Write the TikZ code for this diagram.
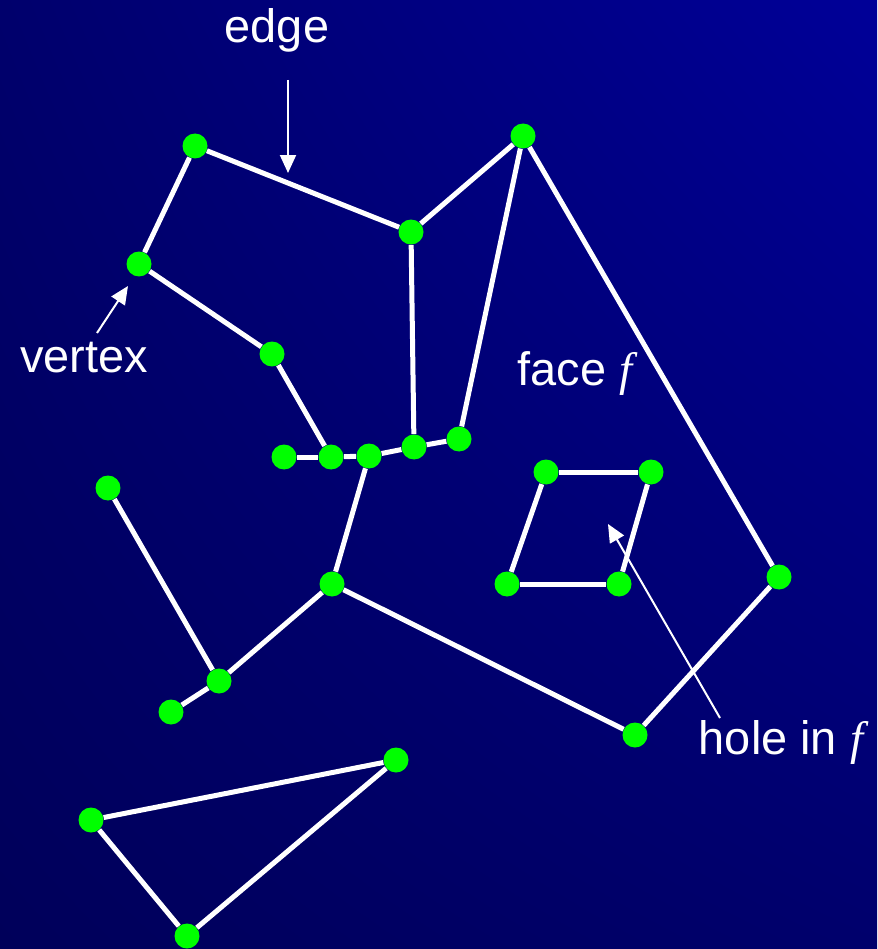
\documentclass[tikz,border=0pt]{standalone}
\usepackage{fontspec}
\setmainfont{Liberation Sans}
\newfontfamily\timesit[ItalicFont={Liberation Serif Italic}]{Liberation Serif}
\usepackage{xcolor}
\definecolor{PlaneDeep}{HTML}{00005A}
\definecolor{PlaneMid}{HTML}{00006C}
\definecolor{PlaneBright}{HTML}{000098}
\definecolor{VertGreen}{HTML}{00FF00}
\usetikzlibrary{arrows.meta,shadings}
\newcommand{\facevar}{{\timesit\itshape f}}

\begin{document}
\begin{tikzpicture}[
  x=0.02cm,y=-0.02cm,
  vert/.style={circle,fill=VertGreen,inner sep=0pt,minimum size=0.5cm},
  seg/.style={draw=white,line width=0.1cm},
  pointer/.style={-{Triangle[length=3.6mm,width=3.2mm]},line width=0.04cm,draw=white},
  lbl/.style={text=white,font=\fontsize{26.7}{32}\selectfont,inner sep=0pt}
]
\shade[upper left=PlaneMid,upper right=PlaneBright,lower left=PlaneDeep,lower right=PlaneMid]
  (0,0) rectangle (877,949);
\useasboundingbox (0,0) rectangle (877,949);

% vertices of the outer structure
\node[vert] (a) at (195,146) {};
\node[vert] (b) at (139,264) {};
\node[vert] (c) at (272,354) {};
\node[vert] (d) at (284,457) {};
\node[vert] (e) at (331,457) {};
\node[vert] (f) at (369,456) {};
\node[vert] (g) at (414,447) {};
\node[vert] (h) at (459,439) {};
\node[vert] (i) at (411,232) {};
\node[vert] (j) at (523,136) {};
\node[vert] (k) at (779,577) {};
\node[vert] (l) at (635,735) {};
\node[vert] (m) at (332,584) {};
\node[vert] (n) at (219,681) {};
\node[vert] (o) at (171,712) {};
\node[vert] (p) at (108,488) {};
% triangle
\node[vert] (q) at (396,760) {};
\node[vert] (r) at (91,820) {};
\node[vert] (s) at (187,936) {};
% hole
\node[vert] (h1) at (546,472) {};
\node[vert] (h2) at (651,472) {};
\node[vert] (h3) at (619,584) {};
\node[vert] (h4) at (507,584) {};

\draw[seg] (a) -- (i);
\draw[seg] (a) -- (b);
\draw[seg] (b) -- (c);
\draw[seg] (c) -- (e);
\draw[seg] (d) -- (e);
\draw[seg] (e) -- (f);
\draw[seg] (f) -- (g);
\draw[seg] (g) -- (h);
\draw[seg] (i) -- (g);
\draw[seg] (i) -- (j);
\draw[seg] (j) -- (h);
\draw[seg] (j) -- (k);
\draw[seg] (k) -- (l);
\draw[seg] (l) -- (m);
\draw[seg] (m) -- (f);
\draw[seg] (m) -- (n);
\draw[seg] (n) -- (o);
\draw[seg] (n) -- (p);
\draw[seg] (q) -- (r);
\draw[seg] (r) -- (s);
\draw[seg] (s) -- (q);
\draw[seg] (h1) -- (h2);
\draw[seg] (h2) -- (h3);
\draw[seg] (h3) -- (h4);
\draw[seg] (h4) -- (h1);

% labels and pointers
\node[lbl] (edgelbl) at (277,30) {edge};
\node[lbl] (vertlbl) at (84,358) {vertex};
\node[lbl] (facelbl) at (575,374) {face \facevar};
\node[lbl] (holelbl) at (781,742) {hole in \facevar};
\coordinate (edgefoot) at (288,80);
\coordinate (edgetip) at (288,173);
\coordinate (vertfoot) at (97,333);
\coordinate (verttip) at (128,286);
\coordinate (holefoot) at (720,718);
\coordinate (holetip) at (608,524);
\draw[pointer] (edgefoot) -- (edgetip);
\draw[pointer] (vertfoot) -- (verttip);
\draw[pointer] (holefoot) -- (holetip);
\end{tikzpicture}
\end{document}
